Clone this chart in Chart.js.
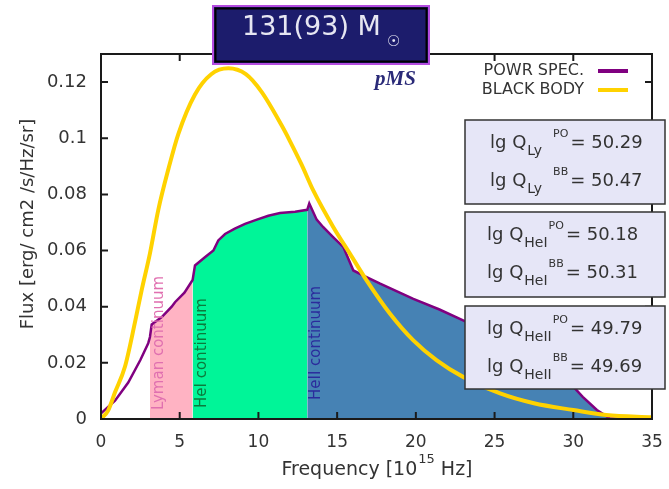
<!DOCTYPE html>
<html>
<head>
<meta charset="utf-8">
<script src="https://cdn.jsdelivr.net/npm/chart.js@4/dist/chart.umd.min.js"></script>
<style>
  html, body { margin: 0; padding: 0; background: #fff; }
  #wrap { width: 669px; height: 489px; }
</style>
</head>
<body>
<div id="wrap"><canvas id="chart" width="669" height="489"></canvas></div>
<script>
// ── Data ─────────────────────────────────────────────────────────────────────
// PoWR model spectrum (frequency in 1e15 Hz, flux in erg/cm2/s/Hz/sr)
const SPEC_FREQ = [0, 0.89, 1.73, 2.5, 3.0, 3.11, 3.22, 3.86, 4.49, 4.7, 5.3, 5.82, 5.97, 6.6, 7.14, 7.45,
                   7.88, 8.5, 9.15, 9.9, 10.63, 11.37, 12.33, 13.1, 13.23, 13.7, 14.12, 14.76,
                   15.4, 16.03, 16.67, 17.73, 19.84, 21.5, 23.0, 25.0, 27.0, 29.0, 30.0, 30.6, 31.5,
                   32.3, 33.0, 35.0];
const SPEC_FLUX = [0.002, 0.0065, 0.013, 0.021, 0.027, 0.0292, 0.0337, 0.0363, 0.0400, 0.0416, 0.0450, 0.0495,
                   0.0547, 0.0576, 0.0600, 0.0636, 0.0659, 0.0678, 0.0695, 0.0710, 0.0724, 0.0734,
                   0.0738, 0.0745, 0.0768, 0.0710, 0.0683, 0.0647, 0.0612, 0.0529, 0.0511, 0.0482,
                   0.0428, 0.0390, 0.0351, 0.0300, 0.0240, 0.0170, 0.0115, 0.0079, 0.0032,
                   0.0003, 0, 0];

// Black body curve
const BB_FREQ = [0, 0.45, 0.89, 1.52, 2.16, 2.58, 3.11, 3.64, 4.28, 4.91, 5.97, 7.0, 8.09, 9.2, 10.2,
                 11.48, 12.0, 12.75, 13.49, 14.76, 15.82, 16.88, 18.36, 19.84, 21.33, 23.0, 25.35,
                 27.5, 30.0, 32.1, 35.0];
const BB_FLUX = [0, 0.0030, 0.0095, 0.0186, 0.0345, 0.0458, 0.0590, 0.0745, 0.0890, 0.1015, 0.1156,
                 0.1228, 0.1249, 0.1228, 0.1165, 0.1045, 0.0990, 0.0905, 0.0813, 0.0683, 0.0588,
                 0.0493, 0.0375, 0.0280, 0.0209, 0.0150, 0.0091, 0.0056, 0.0032, 0.0014, 0.0006];

// Ionisation edges: Lyman, HeI, HeII, end of plot
const EDGES = [3.11, 5.82, 13.1, 35];
const REGION_NAMES = ['Lyman continuum', 'HeI continuum', 'HeII continuum'];

const X_TICKS = [0, 5, 10, 15, 20, 25, 30, 35];
const Y_TICKS = [0, 0.02, 0.04, 0.06, 0.08, 0.1, 0.12];
const Y_LABELS = ['0', '0.02', '0.04', '0.06', '0.08', '0.1', '0.12'];

const LEGEND = ['POWR SPEC.', 'BLACK BODY'];
const Q_SUBS = ['Ly', 'HeI', 'HeII'];
const Q_PO = ['50.29', '50.18', '49.79'];
const Q_BB = ['50.47', '50.31', '49.69'];

// ── Colours ──────────────────────────────────────────────────────────────────
const PURPLE = '#800080';
const GOLD = '#ffd200';
const REGION_FILL = ['#ffb3c3', '#00f598', '#4682b4'];
const REGION_TEXT = ['#e070b0', '#0b7a3c', '#2b2b9c'];
const FONT = '"DejaVu Sans", sans-serif';

const specPts = SPEC_FREQ.map((f, i) => ({ x: f, y: SPEC_FLUX[i] }));
const bbPts = BB_FREQ.map((f, i) => ({ x: f, y: BB_FLUX[i] }));

function regionDataset(i) {
    const lo = EDGES[i], hi = EDGES[i + 1];
    return {
        data: specPts.filter(p => p.x >= lo && p.x <= hi),
        borderWidth: 0,
        pointRadius: 0,
        fill: 'origin',
        backgroundColor: REGION_FILL[i],
        tension: 0,
        order: 3,
    };
}

// ── Decorations (frame, inward ticks, boxes, labels) ────────────────────────
function drawQ(ctx, x, y, sub, sup, val) {
    ctx.textBaseline = 'middle';
    ctx.textAlign = 'left';
    ctx.fillStyle = '#333';
    ctx.font = '18px ' + FONT;
    ctx.fillText('lg Q', x, y);
    let cx = x + ctx.measureText('lg Q').width + 1;
    ctx.font = '14px ' + FONT;
    ctx.fillText(sub, cx, y + 8);
    cx += ctx.measureText(sub).width + (sub === 'Ly' ? 11 : 1);
    ctx.font = '11px ' + FONT;
    ctx.fillText(sup, cx, y - 9);
    cx += ctx.measureText(sup).width + 2;
    ctx.font = '18px ' + FONT;
    ctx.fillText('= ' + val, cx, y);
}

const decor = {
    id: 'decor',
    afterDraw(chart) {
        const { ctx, chartArea: a, scales: { x, y } } = chart;
        ctx.save();

        // region labels (vertical)
        ctx.font = '15px ' + FONT;
        ctx.textAlign = 'left';
        ctx.textBaseline = 'middle';
        const starts = [a.bottom - 9, a.bottom - 11, a.bottom - 19];
        REGION_NAMES.forEach((name, i) => {
            ctx.save();
            ctx.translate(x.getPixelForValue(EDGES[i]) + 9, starts[i]);
            ctx.rotate(-Math.PI / 2);
            ctx.fillStyle = REGION_TEXT[i];
            ctx.fillText(name, 0, 0);
            ctx.restore();
        });

        // frame + inward ticks
        ctx.strokeStyle = '#1a1a1a';
        ctx.lineWidth = 2;
        ctx.strokeRect(a.left, a.top, a.right - a.left, a.bottom - a.top);
        ctx.beginPath();
        X_TICKS.forEach(v => {
            const px = x.getPixelForValue(v);
            ctx.moveTo(px, a.bottom); ctx.lineTo(px, a.bottom - 7);
            ctx.moveTo(px, a.top); ctx.lineTo(px, a.top + 7);
        });
        Y_TICKS.forEach(v => {
            const py = y.getPixelForValue(v);
            ctx.moveTo(a.left, py); ctx.lineTo(a.left + 7, py);
            ctx.moveTo(a.right, py); ctx.lineTo(a.right - 7, py);
        });
        ctx.stroke();

        // axis titles
        ctx.fillStyle = '#333';
        ctx.font = '19px ' + FONT;
        ctx.textBaseline = 'middle';
        ctx.textAlign = 'left';
        const t1 = 'Frequency [10', t3 = ' Hz]';
        const w1 = ctx.measureText(t1).width;
        ctx.font = '13px ' + FONT;
        const w2 = ctx.measureText('15').width;
        ctx.font = '19px ' + FONT;
        const w3 = ctx.measureText(t3).width;
        let tx = (a.left + a.right) / 2 - (w1 + w2 + w3) / 2;
        ctx.fillText(t1, tx, 470);
        ctx.font = '13px ' + FONT;
        ctx.fillText('15', tx + w1 + 1, 460);
        ctx.font = '19px ' + FONT;
        ctx.fillText(t3, tx + w1 + w2 + 1, 470);

        ctx.save();
        ctx.translate(28, 224);
        ctx.rotate(-Math.PI / 2);
        ctx.textAlign = 'center';
        ctx.font = '18px ' + FONT;
        ctx.fillText('Flux [erg/ cm2 /s/Hz/sr]', 0, 0);
        ctx.restore();

        // legend
        ctx.font = '16px ' + FONT;
        ctx.textAlign = 'right';
        ctx.fillStyle = '#333';
        [PURPLE, GOLD].forEach((c, i) => {
            const ly = 71 + i * 19;
            ctx.fillText(LEGEND[i], 584, ly);
            ctx.strokeStyle = c;
            ctx.lineWidth = 4;
            ctx.beginPath();
            ctx.moveTo(598, ly); ctx.lineTo(628, ly);
            ctx.stroke();
        });

        // pMS
        ctx.font = 'italic bold 21px "Liberation Serif", serif';
        ctx.textAlign = 'left';
        ctx.fillStyle = '#2a2a78';
        ctx.fillText('pMS', 375, 80);

        // title box
        ctx.fillStyle = '#1c1c6c';
        ctx.fillRect(213, 6, 216, 58);
        ctx.strokeStyle = '#b44ce0';
        ctx.lineWidth = 2;
        ctx.strokeRect(213, 6, 216, 58);
        ctx.strokeStyle = '#000';
        ctx.strokeRect(215.5, 8.5, 211, 53);
        ctx.fillStyle = '#e6e6f2';
        ctx.font = '27px ' + FONT;
        ctx.fillText('131(93) M', 242, 28);
        ctx.font = '15px ' + FONT;
        ctx.fillText('\u2609', 387, 42);

        // info boxes
        const boxes = [[120, 84], [212, 85], [306, 83]];
        boxes.forEach(([by, bh], i) => {
            ctx.fillStyle = '#e6e6f7';
            ctx.fillRect(465, by, 200, bh);
            ctx.strokeStyle = '#333';
            ctx.lineWidth = 1.5;
            ctx.strokeRect(465, by, 200, bh);
            const x0 = i === 0 ? 490 : 487;
            drawQ(ctx, x0, by + 23, Q_SUBS[i], 'PO', Q_PO[i]);
            drawQ(ctx, x0, by + 61, Q_SUBS[i], 'BB', Q_BB[i]);
        });

        ctx.restore();
    }
};

new Chart(document.getElementById('chart'), {
    type: 'line',
    data: {
        datasets: [
            regionDataset(0),
            regionDataset(1),
            regionDataset(2),
            {
                label: 'POWR SPEC.',
                data: specPts,
                borderColor: PURPLE,
                borderWidth: 2.5,
                pointRadius: 0,
                fill: false,
                tension: 0,
                order: 2,
            },
            {
                label: 'BLACK BODY',
                data: bbPts,
                borderColor: GOLD,
                borderWidth: 4,
                pointRadius: 0,
                fill: false,
                cubicInterpolationMode: 'monotone',
                order: 1,
            },
        ],
    },
    options: {
        responsive: false,
        animation: false,
        layout: { padding: { top: 54, right: 17, bottom: 0, left: 0 } },
        plugins: { legend: { display: false }, title: { display: false }, tooltip: { enabled: false } },
        scales: {
            x: {
                type: 'linear',
                min: 0,
                max: 35,
                afterBuildTicks: s => { s.ticks = X_TICKS.map(v => ({ value: v })); },
                afterFit: s => { s.height = 70; s.paddingLeft = 0; s.paddingRight = 0; },
                grid: { display: false, drawTicks: false },
                border: { display: false },
                ticks: { padding: 13, color: '#333', font: { family: FONT, size: 17 } },
            },
            y: {
                type: 'linear',
                min: 0,
                max: 0.13,
                afterBuildTicks: s => { s.ticks = Y_TICKS.map(v => ({ value: v })); },
                afterFit: s => { s.width = 101; s.paddingTop = 0; s.paddingBottom = 0; },
                grid: { display: false, drawTicks: false },
                border: { display: false },
                ticks: {
                    padding: 14,
                    color: '#333',
                    font: { family: FONT, size: 18 },
                    callback: (v, i) => Y_LABELS[i],
                },
            },
        },
    },
    plugins: [decor],
});
</script>
</body>
</html>
